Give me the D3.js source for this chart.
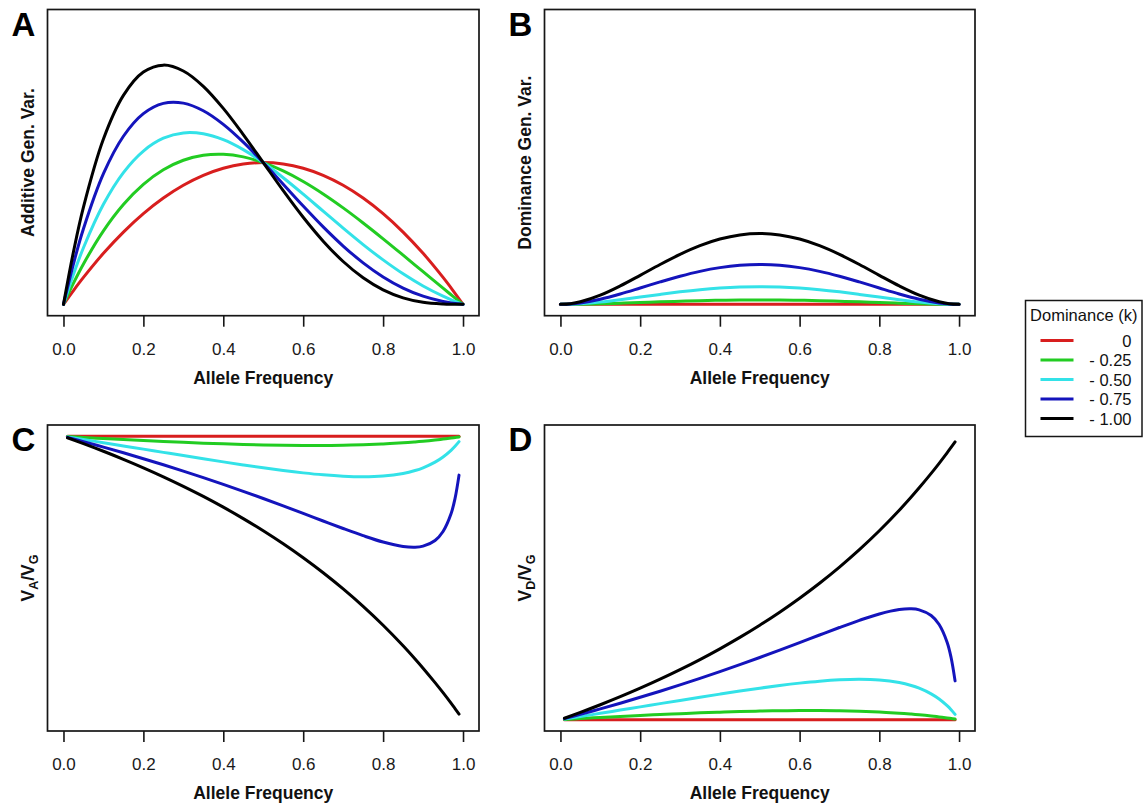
<!DOCTYPE html>
<html>
<head>
<meta charset="utf-8">
<script src="https://cdn.jsdelivr.net/npm/d3@7"></script>
<style>
  body { margin: 0; background: #fff; }
  svg { display: block; font-family: Arial, "Liberation Sans", sans-serif; }
</style>
</head>
<body>
<svg id="fig" width="1143" height="810"></svg>
<script>
// ---- data ----------------------------------------------------------------
const dominanceLabels = ["0", "- 0.25", "- 0.50", "- 0.75", "- 1.00"];
const seriesColors = ["#d81e1e", "#22cc22", "#33e2e8", "#1414bc", "#000000"];
const xTicks = [0, 0.2, 0.4, 0.6, 0.8, 1.0];

// allele frequency grid for the variance panels
const freqVar = [0, 0.025, 0.05, 0.1, 0.15, 0.2, 0.25, 0.3, 0.35, 0.4, 0.45, 0.5,
                 0.55, 0.6, 0.65, 0.7, 0.75, 0.8, 0.85, 0.9, 0.95, 0.975, 1];

// additive genetic variance
const addVar_k000 = [0,.0488,.095,.18,.255,.32,.375,.42,.455,.48,.495,.5,.495,.48,.455,.42,.375,.32,.255,.18,.095,.0488,0];
const addVar_k025 = [0,.0747,.1426,.2592,.3521,.4232,.4746,.5082,.5258,.5292,.5201,.5,.4706,.4332,.3893,.3402,.2871,.2312,.1736,.1152,.0571,.0283,0];
const addVar_k050 = [0,.1061,.1997,.3528,.4647,.5408,.5859,.6048,.6017,.5808,.5457,.5,.4467,.3888,.3287,.2688,.2109,.1568,.1077,.0648,.0287,.0134,0];
const addVar_k075 = [0,.1430,.2665,.4608,.5930,.6728,.7090,.7098,.6828,.6348,.5720,.5,.4235,.3468,.2733,.2058,.1465,.0968,.0575,.0288,.0100,.0040,0];
const addVar_k100 = [0,.1854,.3430,.5832,.7370,.8192,.8438,.8232,.7690,.6912,.5990,.5,.4010,.3072,.2230,.1512,.0938,.0512,.0230,.0072,.0010,.0001,0];

// dominance genetic variance
const domVar_k000 = [0,0,0,0,0,0,0,0,0,0,0,0,0,0,0,0,0,0,0,0,0,0,0];
const domVar_k025 = [0,.000149,.000564,.002025,.004064,.0064,.008789,.011025,.012939,.0144,.015314,.015625,.015314,.0144,.012939,.011025,.008789,.0064,.004064,.002025,.000564,.000149,0];
const domVar_k050 = [0,.000594,.002256,.0081,.016256,.0256,.035156,.0441,.051756,.0576,.061256,.0625,.061256,.0576,.051756,.0441,.035156,.0256,.016256,.0081,.002256,.000594,0];
const domVar_k075 = [0,.001337,.005077,.018225,.036577,.0576,.079102,.099225,.116452,.1296,.137827,.140625,.137827,.1296,.116452,.099225,.079102,.0576,.036577,.018225,.005077,.001337,0];
const domVar_k100 = [0,.002377,.009025,.0324,.065025,.1024,.140625,.1764,.207025,.2304,.245025,.25,.245025,.2304,.207025,.1764,.140625,.1024,.065025,.0324,.009025,.002377,0];

// allele frequency grid for the ratio panels
const freqRatio = [0.01, 0.05, 0.1, 0.15, 0.2, 0.25, 0.3, 0.35, 0.4, 0.45, 0.5, 0.55, 0.6,
                   0.65, 0.7, 0.75, 0.8, 0.85, 0.88, 0.9, 0.93, 0.95, 0.97, 0.98, 0.99];

// VA / VG
const addRatio_k000 = [1,1,1,1,1,1,1,1,1,1,1,1,1,1,1,1,1,1,1,1,1,1,1,1,1];
const addRatio_k025 = [.9992,.9961,.9923,.9886,.9851,.9818,.9788,.9760,.9735,.9714,.9697,.9685,.9678,.9678,.9686,.9703,.9731,.9771,.9803,.9827,.9870,.9902,.9938,.9958,.9978];
const addRatio_k050 = [.9978,.9888,.9776,.9662,.9548,.9434,.9320,.9208,.9098,.8991,.8889,.8794,.8710,.8640,.8591,.8571,.8596,.8689,.8792,.8889,.9089,.9272,.9508,.9650,.9813];
const addRatio_k075 = [.9963,.9813,.9620,.9419,.9211,.8996,.8774,.8543,.8305,.8058,.7805,.7545,.7280,.7012,.6747,.6494,.6269,.6114,.6088,.6124,.6325,.6641,.7266,.7805,.8631];
const addRatio_k100 = [.9950,.9744,.9474,.9189,.8889,.8571,.8235,.7879,.7500,.7097,.6667,.6207,.5714,.5185,.4615,.4000,.3333,.2609,.2143,.1818,.1308,.0952,.0583,.0392,.0198];

// VD / VG
const domRatio_k000 = [0,0,0,0,0,0,0,0,0,0,0,0,0,0,0,0,0,0,0,0,0,0,0,0,0];
const domRatio_k025 = [.0008,.0039,.0077,.0114,.0149,.0182,.0212,.0240,.0265,.0286,.0303,.0315,.0322,.0322,.0314,.0297,.0269,.0229,.0197,.0173,.0130,.0098,.0062,.0042,.0022];
const domRatio_k050 = [.0022,.0112,.0224,.0338,.0452,.0566,.0680,.0792,.0902,.1009,.1111,.1206,.1290,.1360,.1409,.1429,.1404,.1311,.1208,.1111,.0911,.0728,.0492,.0350,.0187];
const domRatio_k075 = [.0037,.0187,.0380,.0581,.0789,.1004,.1226,.1457,.1695,.1942,.2195,.2455,.2720,.2988,.3253,.3506,.3731,.3886,.3912,.3876,.3675,.3359,.2734,.2195,.1369];
const domRatio_k100 = [.0050,.0256,.0526,.0811,.1111,.1429,.1765,.2121,.2500,.2903,.3333,.3793,.4286,.4815,.5385,.6000,.6667,.7391,.7857,.8182,.8692,.9048,.9417,.9608,.9802];

// ---- layout ----------------------------------------------------------------
const panels = [
  { tag: "A", box: [47.5, 9.5, 479, 315.7], xs: freqVar,
    ys: [addVar_k000, addVar_k025, addVar_k050, addVar_k075, addVar_k100],
    ylab: [{ t: "Additive Gen. Var." }] },
  { tag: "B", box: [544.5, 9.5, 975, 315.7], xs: freqVar,
    ys: [domVar_k000, domVar_k025, domVar_k050, domVar_k075, domVar_k100],
    ylab: [{ t: "Dominance Gen. Var." }] },
  { tag: "C", box: [47.5, 425, 479, 731], xs: freqRatio,
    ys: [addRatio_k000, addRatio_k025, addRatio_k050, addRatio_k075, addRatio_k100],
    ylab: [{ t: "V" }, { t: "A", sub: true }, { t: "/" }, { t: "V" }, { t: "G", sub: true }] },
  { tag: "D", box: [544.5, 425, 975, 731], xs: freqRatio,
    ys: [domRatio_k000, domRatio_k025, domRatio_k050, domRatio_k075, domRatio_k100],
    ylab: [{ t: "V" }, { t: "D", sub: true }, { t: "/" }, { t: "V" }, { t: "G", sub: true }] }
];

const svg = d3.select("#fig");
const ink = "#161616";

panels.forEach(p => {
  const [bx0, by0, bx1, by1] = p.box;
  // 4% padding around [0, 1] on both axes
  const x = d3.scaleLinear().domain([-0.04, 1.04]).range([bx0, bx1]);
  const y = d3.scaleLinear().domain([-0.04, 1.04]).range([by1, by0]);
  const g = svg.append("g");

  const line = d3.line()
    .x(d => x(d[0]))
    .y(d => y(d[1]))
    .curve(d3.curveCatmullRom.alpha(0.5));

  p.ys.forEach((vals, i) => {
    const pts = p.xs.map((fx, j) => [fx, vals[j]]);
    g.append("path")
      .attr("d", line(pts))
      .attr("fill", "none")
      .attr("stroke", seriesColors[i])
      .attr("stroke-width", 3)
      .attr("stroke-linejoin", "round")
      .attr("stroke-linecap", "round");
  });

  // plot frame
  g.append("rect")
    .attr("x", bx0).attr("y", by0)
    .attr("width", bx1 - bx0).attr("height", by1 - by0)
    .attr("fill", "none").attr("stroke", ink).attr("stroke-width", 1.7);

  // x axis
  const ax = g.append("g")
    .attr("transform", `translate(0,${by1})`)
    .call(d3.axisBottom(x).tickValues(xTicks).tickFormat(d3.format(".1f"))
      .tickSize(11).tickPadding(16));
  ax.select(".domain").remove();
  ax.selectAll(".tick line").attr("stroke", ink).attr("stroke-width", 1.6);
  ax.selectAll(".tick text")
    .attr("fill", "#1a1a1a")
    .style("font-size", "17px")
    .style("font-family", "Arial, 'Liberation Sans', sans-serif");

  g.append("text")
    .attr("x", x(0.5)).attr("y", by1 + 68)
    .attr("text-anchor", "middle")
    .attr("font-weight", "bold").attr("font-size", 17.5)
    .attr("fill", "#111")
    .text("Allele Frequency");

  // y label (rotated)
  const yl = g.append("text")
    .attr("transform", `translate(${bx0 - 14},${(by0 + by1) / 2}) rotate(-90)`)
    .attr("text-anchor", "middle")
    .attr("font-weight", "bold").attr("font-size", 17.5)
    .attr("fill", "#111");
  let shifted = false;
  p.ylab.forEach(part => {
    const ts = yl.append("tspan").text(part.t);
    if (part.sub) {
      ts.attr("font-size", 12.5).attr("dy", 4);
      shifted = true;
    } else if (shifted) {
      ts.attr("dy", -4);
      shifted = false;
    }
  });

  // panel tag
  g.append("text")
    .attr("x", bx0 - 36).attr("y", by0 + 26)
    .attr("font-weight", "bold").attr("font-size", 33)
    .attr("fill", "#000")
    .text(p.tag);
});

// ---- legend ----------------------------------------------------------------
const leg = svg.append("g");
const legTop = 300.5, legLeft = 1025.5, legW = 116.5, rowGap = 19.5;
leg.append("rect")
  .attr("x", legLeft).attr("y", legTop)
  .attr("width", legW).attr("height", 136)
  .attr("fill", "#fff").attr("stroke", ink).attr("stroke-width", 1.5);
leg.append("text")
  .attr("x", legLeft + legW / 2).attr("y", legTop + 20)
  .attr("text-anchor", "middle").attr("font-size", 16.5)
  .attr("fill", "#111")
  .text("Dominance (k)");
dominanceLabels.forEach((lab, i) => {
  const cy = legTop + 40 + i * rowGap;
  leg.append("line")
    .attr("x1", legLeft + 15).attr("x2", legLeft + 48)
    .attr("y1", cy).attr("y2", cy)
    .attr("stroke", seriesColors[i]).attr("stroke-width", 3);
  leg.append("text")
    .attr("x", legLeft + 106).attr("y", cy + 6)
    .attr("text-anchor", "end").attr("font-size", 16.5)
    .attr("fill", "#111")
    .text(lab);
});
</script>
</body>
</html>
